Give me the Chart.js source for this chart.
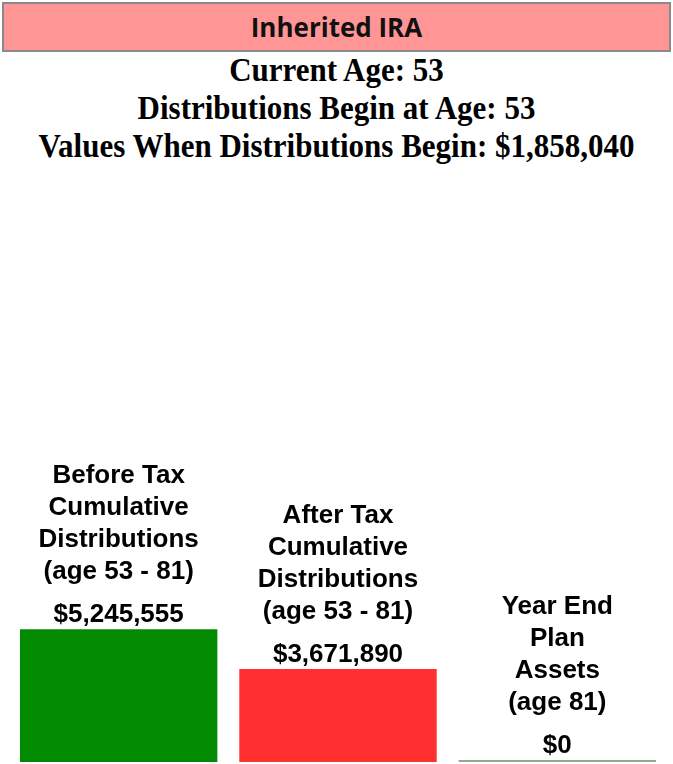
<!DOCTYPE html>
<html lang="en">
<head>
    <meta charset="UTF-8">
    <title>Inherited IRA</title>
    <script src="https://cdn.jsdelivr.net/npm/chart.js"></script>
    <style>
        html, body {
            margin: 0;
            padding: 0;
            background: #ffffff;
            width: 673px;
            height: 764px;
            overflow: hidden;
        }
        .header {
            position: absolute;
            left: 2px;
            top: 2px;
            width: 665px;
            height: 46px;
            background-color: #ff9595;
            border: 2px solid #8a8a8a;
            text-align: center;
            font-family: "Open Sans", Arial, sans-serif;
            font-weight: bold;
            font-size: 26px;
            line-height: 46px;
            color: #111;
        }
        .info {
            position: absolute;
            left: 0;
            top: 51px;
            width: 673px;
            text-align: center;
            font-family: "Liberation Serif", "Times New Roman", serif;
            font-weight: bold;
            font-size: 31px;
            line-height: 35px;
            color: #000;
            transform: scaleY(1.08);
            transform-origin: top;
        }
        .chart-box {
            position: absolute;
            left: 0;
            top: 170px;
            width: 673px;
            height: 594px;
        }
    </style>
</head>
<body>

<div class="header">Inherited IRA</div>
<div class="info">
    <div>Current Age: 53</div>
    <div>Distributions Begin at Age: 53</div>
    <div>Values When Distributions Begin: $1,858,040</div>
</div>

<div class="chart-box">
    <canvas id="iraChart"></canvas>
</div>

<script>
    // Chart data
    const categories = [
        ['Before Tax', 'Cumulative', 'Distributions', '(age 53 - 81)'],
        ['After Tax', 'Cumulative', 'Distributions', '(age 53 - 81)'],
        ['Year End', 'Plan', 'Assets', '(age 81)']
    ];
    const values = [5245555, 3671890, 0];
    const barColors = ['#038a03', '#ff3030', '#8fae86'];

    const money = v => '$' + v.toLocaleString('en-US');

    // draws the multi-line label and the value above each bar
    const topLabels = {
        id: 'topLabels',
        afterDatasetsDraw(chart) {
            const ctx = chart.ctx;
            const meta = chart.getDatasetMeta(0);
            ctx.save();
            ctx.fillStyle = '#000';
            ctx.textAlign = 'center';
            ctx.textBaseline = 'middle';
            ctx.font = 'bold 26px "Liberation Sans", Arial, sans-serif';
            meta.data.forEach((bar, i) => {
                const valueY = bar.y - 14;
                ctx.fillText(money(values[i]), bar.x, valueY);
                const lines = categories[i];
                lines.forEach((line, j) => {
                    const y = valueY - 43 - (lines.length - 1 - j) * 32;
                    ctx.fillText(line, bar.x, y);
                });
            });
            ctx.restore();
        }
    };

    const ctx = document.getElementById('iraChart').getContext('2d');
    new Chart(ctx, {
        type: 'bar',
        data: {
            labels: categories,
            datasets: [{
                data: values,
                backgroundColor: barColors,
                borderWidth: 0,
                minBarLength: 2,
                barPercentage: 0.9,
                categoryPercentage: 1.0
            }]
        },
        options: {
            responsive: true,
            maintainAspectRatio: false,
            animation: false,
            layout: {
                padding: { left: 9, right: 6, top: 0, bottom: 2 }
            },
            plugins: {
                legend: { display: false },
                tooltip: { enabled: false }
            },
            scales: {
                x: {
                    display: false
                },
                y: {
                    display: false,
                    min: 0,
                    max: 23400000
                }
            }
        },
        plugins: [topLabels]
    });
</script>

</body>
</html>
